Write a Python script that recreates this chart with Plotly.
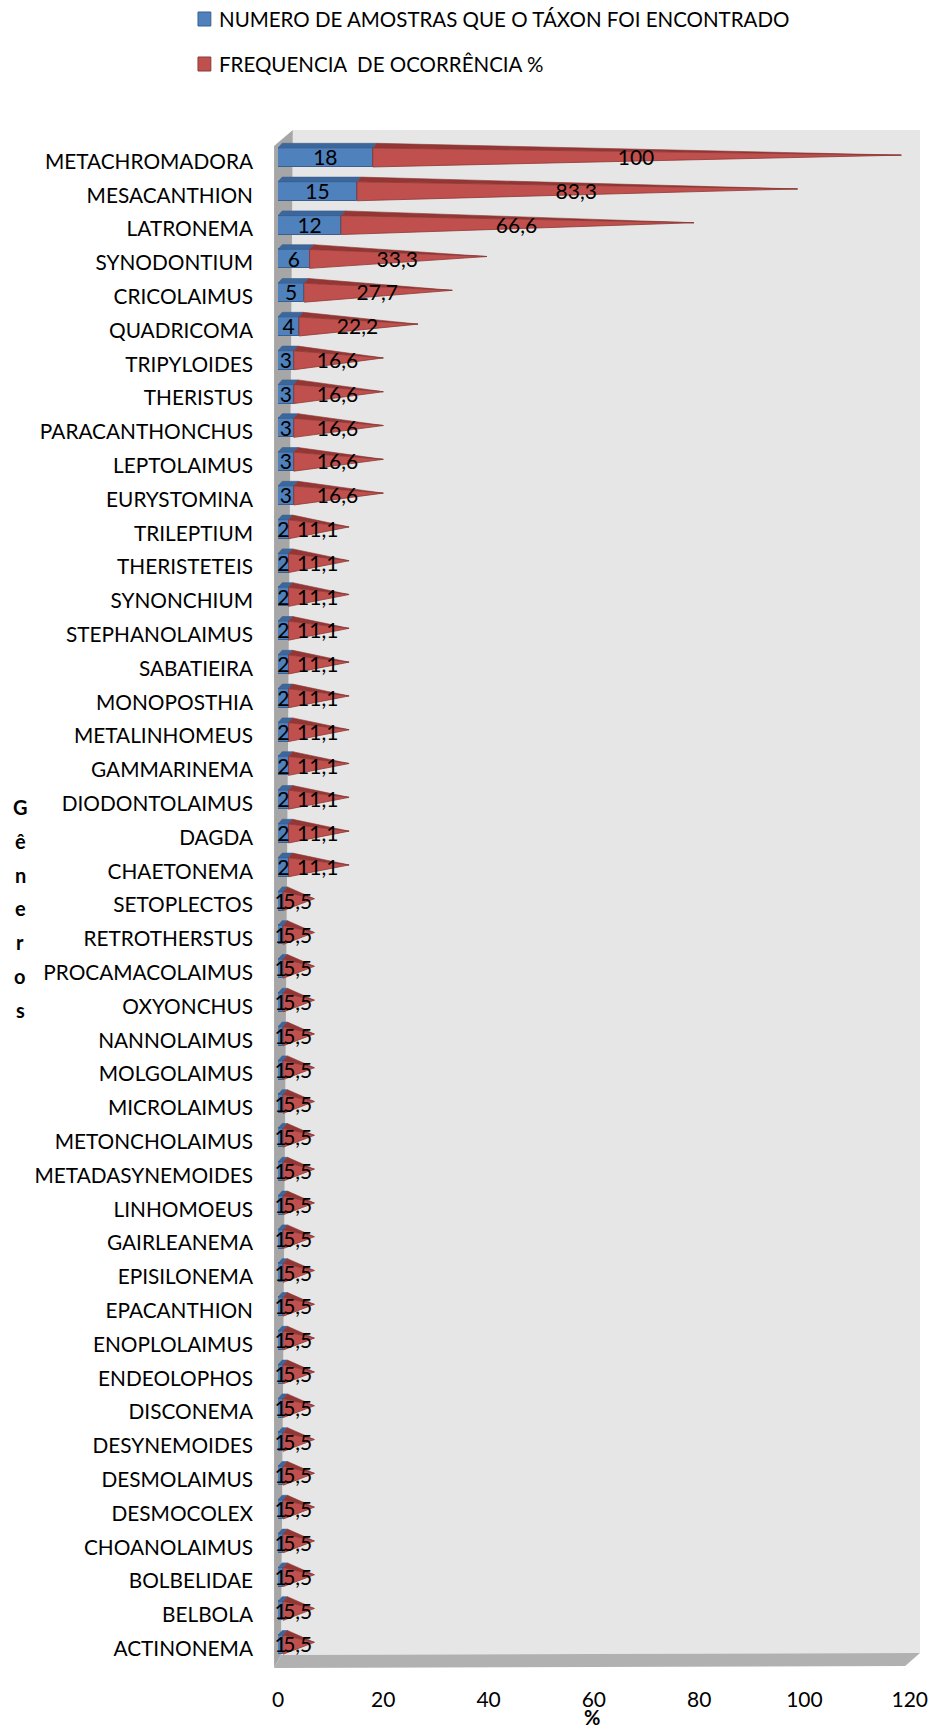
import plotly.graph_objects as go

# Nematode genera, ordered from most to least frequent
generos = [
    "METACHROMADORA", "MESACANTHION", "LATRONEMA", "SYNODONTIUM", "CRICOLAIMUS",
    "QUADRICOMA", "TRIPYLOIDES", "THERISTUS", "PARACANTHONCHUS", "LEPTOLAIMUS",
    "EURYSTOMINA", "TRILEPTIUM", "THERISTETEIS", "SYNONCHIUM", "STEPHANOLAIMUS",
    "SABATIEIRA", "MONOPOSTHIA", "METALINHOMEUS", "GAMMARINEMA", "DIODONTOLAIMUS",
    "DAGDA", "CHAETONEMA", "SETOPLECTOS", "RETROTHERSTUS", "PROCAMACOLAIMUS",
    "OXYONCHUS", "NANNOLAIMUS", "MOLGOLAIMUS", "MICROLAIMUS", "METONCHOLAIMUS",
    "METADASYNEMOIDES", "LINHOMOEUS", "GAIRLEANEMA", "EPISILONEMA", "EPACANTHION",
    "ENOPLOLAIMUS", "ENDEOLOPHOS", "DISCONEMA", "DESYNEMOIDES", "DESMOLAIMUS",
    "DESMOCOLEX", "CHOANOLAIMUS", "BOLBELIDAE", "BELBOLA", "ACTINONEMA",
]

# Number of samples in which each taxon was found
amostras = [18, 15, 12, 6, 5, 4, 3, 3, 3, 3, 3,
            2, 2, 2, 2, 2, 2, 2, 2, 2, 2, 2,
            1, 1, 1, 1, 1, 1, 1, 1, 1, 1, 1, 1, 1, 1, 1, 1, 1, 1, 1, 1, 1, 1, 1]

# Frequency of occurrence (%)
frequencia = [100, 83.3, 66.6, 33.3, 27.7, 22.2, 16.6, 16.6, 16.6, 16.6, 16.6,
              11.1, 11.1, 11.1, 11.1, 11.1, 11.1, 11.1, 11.1, 11.1, 11.1, 11.1,
              5.5, 5.5, 5.5, 5.5, 5.5, 5.5, 5.5, 5.5, 5.5, 5.5, 5.5, 5.5, 5.5, 5.5,
              5.5, 5.5, 5.5, 5.5, 5.5, 5.5, 5.5, 5.5, 5.5]

x_ticks = [0, 20, 40, 60, 80, 100, 120]

LEG_AMOSTRAS = "NUMERO DE AMOSTRAS QUE O TÁXON FOI ENCONTRADO"
LEG_FREQ = "FREQUENCIA\u00a0 DE OCORRÊNCIA %"

# ---- page / frame geometry (pixels) ----
W, H = 936, 1731
PLOT_L, PLOT_R, PLOT_T, PLOT_B = 278, 928, 130, 1668
X_PER_UNIT = 5.33          # pixels per percent unit on the front plane
ROW0_PX, ROW_STEP = 157.5, 33.8

x_max = (PLOT_R - PLOT_L) / X_PER_UNIT
y_top = (PLOT_T - ROW0_PX) / ROW_STEP
y_bot = (PLOT_B - ROW0_PX) / ROW_STEP

FONT = "Lato"

BLUE_FRONT, BLUE_TOP, BLUE_EDGE = "#4f81bd", "#3b679c", "#3a5f8e"
RED_FRONT, RED_TOP, RED_EDGE = "#c0504d", "#933634", "#8c3836"

# bar shape, in axis units
HALF = 0.28      # half height of the front face
DEPTH_Y = 0.14   # top face depth (vertical)
DEPTH_X = 0.8    # top face depth (horizontal)
LABEL_SHIFT = 0.12   # category labels sit slightly below the bar centre
VALUE_SHIFT = 0.07   # value labels likewise


def fmt(v):
    return f"{v:g}".replace(".", ",")


rows = list(range(len(generos)))

blue_top_x, blue_top_y = [], []
red_top_x, red_top_y = [], []
red_front_x, red_front_y = [], []
for i, c, f in zip(rows, amostras, frequencia):
    top, bot = i - HALF, i + HALF
    back = top - DEPTH_Y
    blue_top_x += [0, DEPTH_X, c + DEPTH_X, c, 0, None]
    blue_top_y += [top, back, back, top, top, None]
    apex_x, apex_y = c + f + DEPTH_X / 2, i - DEPTH_Y / 2
    red_top_x += [c, c + DEPTH_X, apex_x, c, None]
    red_top_y += [top, back, apex_y, top, None]
    red_front_x += [c, c, apex_x, c, None]
    red_front_y += [top, bot, apex_y, top, None]

fig = go.Figure()

# blue box: front face
fig.add_trace(go.Bar(
    orientation="h", y=rows, x=amostras, base=0, width=2 * HALF,
    marker=dict(color=BLUE_FRONT, line=dict(color=BLUE_EDGE, width=1)),
    showlegend=False, hoverinfo="skip",
))
# blue box: top face
fig.add_trace(go.Scatter(
    x=blue_top_x, y=blue_top_y, mode="lines", fill="toself",
    fillcolor=BLUE_TOP, line=dict(color=BLUE_EDGE, width=0.6),
    showlegend=False, hoverinfo="skip",
))
# red pyramid: top face
fig.add_trace(go.Scatter(
    x=red_top_x, y=red_top_y, mode="lines", fill="toself",
    fillcolor=RED_TOP, line=dict(color=RED_EDGE, width=0.6),
    showlegend=False, hoverinfo="skip",
))
# red pyramid: front face
fig.add_trace(go.Scatter(
    x=red_front_x, y=red_front_y, mode="lines", fill="toself",
    fillcolor=RED_FRONT, line=dict(color=RED_EDGE, width=0.8),
    showlegend=False, hoverinfo="skip",
))

# value labels
fig.add_trace(go.Scatter(
    x=[c / 2 for c in amostras], y=[i + VALUE_SHIFT for i in rows], mode="text",
    text=[fmt(c) for c in amostras], textposition="middle center",
    textfont=dict(family=FONT, size=21, color="#000000"),
    showlegend=False, hoverinfo="skip", cliponaxis=False,
))
fig.add_trace(go.Scatter(
    x=[c + f / 2 for c, f in zip(amostras, frequencia)], y=[i + VALUE_SHIFT for i in rows],
    mode="text",
    text=[fmt(f) for f in frequencia], textposition="middle center",
    textfont=dict(family=FONT, size=21, color="#000000"),
    showlegend=False, hoverinfo="skip", cliponaxis=False,
))


def px(xp):
    return (xp - PLOT_L) / (PLOT_R - PLOT_L)


def py(yp):
    return (PLOT_B - yp) / (PLOT_B - PLOT_T)


def poly(points):
    return "M " + " L ".join(f"{px(a):.5f},{py(b):.5f}" for a, b in points) + " Z"


# 3-D box: back wall, side wall (with perspective) and floor
WALL_FRONT_X, WALL_TOP_BACK_X, WALL_BOT_BACK_X = 274, 293, 281
FLOOR_Y = 1655
shapes = [
    dict(type="path", xref="paper", yref="paper",
         path=poly([(WALL_TOP_BACK_X, PLOT_T), (PLOT_R, PLOT_T), (PLOT_R, FLOOR_Y - 2),
                    (WALL_BOT_BACK_X, FLOOR_Y)]),
         fillcolor="#e6e6e6", line=dict(width=0), layer="below"),
    dict(type="path", xref="paper", yref="paper",
         path=poly([(WALL_FRONT_X, PLOT_T + 16), (WALL_TOP_BACK_X, PLOT_T),
                    (WALL_BOT_BACK_X, FLOOR_Y), (WALL_FRONT_X, PLOT_B)]),
         fillcolor="#a6a6a6", line=dict(width=0), layer="below"),
    dict(type="path", xref="paper", yref="paper",
         path=poly([(WALL_FRONT_X, PLOT_B), (WALL_BOT_BACK_X, FLOOR_Y),
                    (PLOT_R, FLOOR_Y - 2), (PLOT_R - 15, PLOT_B - 2)]),
         fillcolor="#b1b1b1", line=dict(width=0), layer="below"),
]

# legend swatches
for ly, fill, edge in [(19, BLUE_FRONT, BLUE_EDGE), (64, RED_FRONT, RED_EDGE)]:
    shapes.append(dict(type="rect", xref="paper", yref="paper",
                       x0=px(197), x1=px(210), y0=py(ly + 7), y1=py(ly - 7),
                       fillcolor=fill, line=dict(color=edge, width=1)))

annotations = [
    dict(text=LEG_AMOSTRAS, xref="paper", yref="paper", x=px(216), y=py(19),
         xanchor="left", yanchor="middle", showarrow=False,
         font=dict(family=FONT, size=20.5, color="#000000")),
    dict(text=LEG_FREQ, xref="paper", yref="paper", x=px(216), y=py(64),
         xanchor="left", yanchor="middle", showarrow=False,
         font=dict(family=FONT, size=20.5, color="#000000")),
    dict(text="<b>%</b>", xref="paper", yref="paper", x=px(596), y=py(1717),
         xanchor="center", yanchor="middle", showarrow=False,
         font=dict(family=FONT, size=20, color="#000000")),
]
# vertical axis title, one letter per line
for k, ch in enumerate("Gêneros"):
    annotations.append(dict(
        text=f"<b>{ch}</b>", xref="paper", yref="paper", x=px(17), y=py(807 + k * 33.8),
        xanchor="center", yanchor="middle", showarrow=False,
        font=dict(family=FONT, size=20, color="#000000")))

fig.update_layout(
    width=W, height=H,
    margin=dict(l=PLOT_L, r=W - PLOT_R, t=PLOT_T, b=H - PLOT_B, pad=0),
    paper_bgcolor="#ffffff", plot_bgcolor="rgba(0,0,0,0)",
    showlegend=False, bargap=0,
    shapes=shapes, annotations=annotations,
    xaxis=dict(range=[0, x_max], tickvals=x_ticks, ticktext=[str(t) for t in x_ticks],
               showgrid=False, zeroline=False, showline=False, ticks="",
               ticklabelstandoff=17,
               tickfont=dict(family=FONT, size=21, color="#000000")),
    yaxis=dict(range=[y_bot, y_top], tickvals=[i + LABEL_SHIFT for i in rows],
               ticktext=generos,
               showgrid=False, zeroline=False, showline=False, ticks="",
               ticklabelstandoff=24,
               tickfont=dict(family=FONT, size=20.8, color="#000000")),
)

fig.write_html("out.html")
